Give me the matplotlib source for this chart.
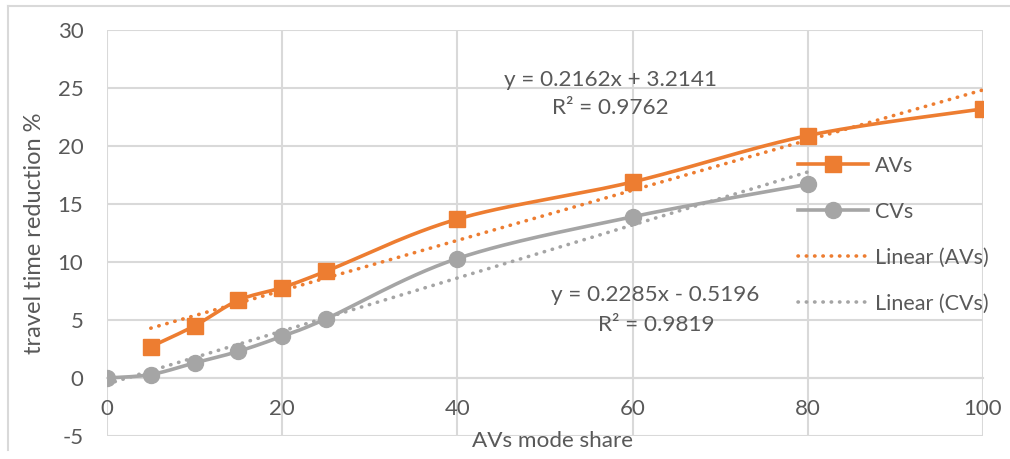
import numpy as np
import matplotlib.pyplot as plt
from matplotlib.lines import Line2D

plt.rcParams['font.family'] = ['Lato', 'DejaVu Sans']
plt.rcParams['axes.unicode_minus'] = False

# mode share of AVs (%) and resulting travel time reduction (%)
av_share = [5, 10, 15, 20, 25, 40, 60, 80, 100]
av_reduction = [2.7, 4.5, 6.7, 7.8, 9.2, 13.7, 16.9, 20.9, 23.2]
cv_share = [0, 5, 10, 15, 20, 25, 40, 60, 80]
cv_reduction = [0.0, 0.3, 1.3, 2.3, 3.6, 5.1, 10.3, 13.9, 16.7]

# linear trend fits (slope, intercept, r squared)
av_fit = (0.2162, 3.2141, 0.9762)
cv_fit = (0.2285, -0.5196, 0.9819)

x_ticks = [0, 20, 40, 60, 80, 100]
y_ticks = [-5, 0, 5, 10, 15, 20, 25, 30]

ORANGE = '#ED7D31'
GREY = '#A5A5A5'
GRID = '#D9D9D9'
TEXT = '#595959'
FS = 15.5
DOTS = (0, (0.1, 2.2))


def smooth(x, y, n=30):
    # catmull-rom style bezier through the points, like office "smoothed line"
    x = np.asarray(x, float)
    y = np.asarray(y, float)
    pts = np.column_stack([x, y])
    out = []
    for i in range(len(pts) - 1):
        p0 = pts[i - 1] if i > 0 else pts[i]
        p1 = pts[i]
        p2 = pts[i + 1]
        p3 = pts[i + 2] if i + 2 < len(pts) else pts[i + 1]
        c1 = p1 + (p2 - p0) / 6.0
        c2 = p2 - (p3 - p1) / 6.0
        t = np.linspace(0, 1, n)[:, None]
        seg = ((1 - t) ** 3) * p1 + 3 * ((1 - t) ** 2) * t * c1 + 3 * (1 - t) * t ** 2 * c2 + t ** 3 * p2
        out.append(seg if i == 0 else seg[1:])
    out = np.vstack(out)
    return out[:, 0], out[:, 1]


fig = plt.figure(figsize=(10.10, 4.59), dpi=100)
ax = fig.add_axes([107 / 1010, 23 / 459, 876 / 1010, 406 / 459])

# outer chart border
fig.add_artist(Line2D([8 / 1010, 8 / 1010], [0.02, 1 - 6 / 459], transform=fig.transFigure,
                      color=GRID, lw=1.5))
fig.add_artist(Line2D([8 / 1010, 1.0], [1 - 6 / 459, 1 - 6 / 459], transform=fig.transFigure,
                      color=GRID, lw=1.5))

# trend lines
tx = np.array([min(av_share), max(av_share)])
ax.plot(tx, av_fit[0] * tx + av_fit[1], color=ORANGE, lw=2.6, linestyle=DOTS,
        dash_capstyle='round', zorder=3)
tx = np.array([min(cv_share), max(cv_share)])
ax.plot(tx, cv_fit[0] * tx + cv_fit[1], color=GREY, lw=2.6, linestyle=DOTS,
        dash_capstyle='round', zorder=3)

# measured series
sx, sy = smooth(cv_share, cv_reduction)
ax.plot(sx, sy, color=GREY, lw=2.6, zorder=4, solid_capstyle='round')
ax.plot(cv_share, cv_reduction, 'o', color=GREY, ms=11.5, zorder=5)
sx, sy = smooth(av_share, av_reduction)
ax.plot(sx, sy, color=ORANGE, lw=2.6, zorder=4, solid_capstyle='round')
ax.plot(av_share, av_reduction, 's', color=ORANGE, ms=11, zorder=5)

ax.set_xlim(0, 100)
ax.set_ylim(-5, 30)
ax.set_xticks(x_ticks)
ax.set_yticks(y_ticks)
ax.grid(True, color=GRID, lw=1.5)
ax.set_axisbelow(True)
for s in ['top', 'right', 'left']:
    ax.spines[s].set_visible(False)
ax.spines['bottom'].set_position(('data', 0))
ax.spines['bottom'].set_color(GRID)
ax.spines['bottom'].set_linewidth(1.5)
ax.tick_params(axis='both', length=0, labelsize=16, labelcolor=TEXT)
ax.tick_params(axis='x', pad=15)
ax.tick_params(axis='y', pad=17)

ax.set_ylabel('travel time reduction %', fontsize=17, color=TEXT, labelpad=9)
fig.text(552 / 1010, 1 - 441 / 459, 'AVs mode share', fontsize=16.2, color=TEXT,
         ha='center', va='center')

# trend equations
ax.text(57.5, 25.7, 'y = %.4fx + %.4f' % (av_fit[0], av_fit[1]), fontsize=16.2, color=TEXT,
        ha='center', va='center')
ax.text(57.4, 23.3, 'R² = %.4f' % av_fit[2], fontsize=16.2, color=TEXT, ha='center', va='center')
ax.text(62.6, 7.15, 'y = %.4fx - %.4f' % (cv_fit[0], -cv_fit[1]), fontsize=16.2, color=TEXT,
        ha='center', va='center')
ax.text(62.7, 4.55, 'R² = %.4f' % cv_fit[2], fontsize=16.2, color=TEXT, ha='center', va='center')

handles = [
    Line2D([], [], color=ORANGE, lw=2.6, marker='s', ms=11),
    Line2D([], [], color=GREY, lw=2.6, marker='o', ms=11.5),
    Line2D([], [], color=ORANGE, lw=2.6, linestyle=DOTS, dash_capstyle='round'),
    Line2D([], [], color=GREY, lw=2.6, linestyle=DOTS, dash_capstyle='round'),
]
ax.legend(handles, ['AVs', 'CVs', 'Linear (AVs)', 'Linear (CVs)'], loc='upper left',
          bbox_to_anchor=((798 - 107) / 876, 1 - (156 - 30) / 406), bbox_transform=ax.transAxes,
          frameon=False, fontsize=FS, labelcolor=TEXT, handlelength=3.25, labelspacing=1.2,
          handletextpad=0.33, borderpad=0, borderaxespad=0)

fig.savefig('out.png', dpi=100)
